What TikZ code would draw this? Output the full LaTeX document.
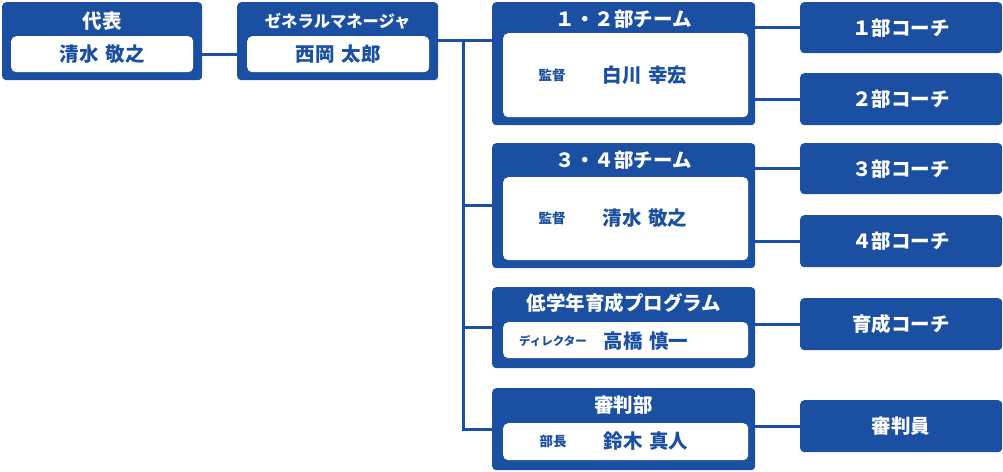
\documentclass[tikz,border=0pt]{standalone}
\usepackage{fontspec}
\setmainfont{Noto Sans CJK JP}
\usepackage{tikz}
\usetikzlibrary{calc,positioning}
\definecolor{jblue}{RGB}{26,79,161}

\begin{document}
\begin{tikzpicture}[x=1pt,y=-1pt,
  box/.style={fill=jblue,rounded corners=4pt,inner sep=0pt,anchor=north west},
  inbox/.style={fill=white,rounded corners=5pt,inner sep=0pt,anchor=north west},
  ttl/.style={text=white,font=\bfseries\fontsize{19.5}{19.5}\selectfont},
  coach/.style={box,text=white,anchor=north west,minimum width=202pt,minimum height=52pt,font=\bfseries\fontsize{19.5}{19.5}\selectfont},
  nm/.style={text=jblue,font=\bfseries\fontsize{19.5}{19.5}\selectfont},
  role/.style={text=jblue,font=\bfseries\fontsize{13.5}{13.5}\selectfont},
  conn/.style={jblue,line width=3pt}]
  \useasboundingbox (0,0) rectangle (1003,471);
  % left column
  \node[box,minimum width=200pt,minimum height=78pt] (rep) at (2,2) {};
  \node[ttl] (reptl) at ($(rep.north)+(0,19)$) {代表};
  \node[inbox,minimum width=182pt,minimum height=36pt] (repin) at (11,36) {};
  \node[nm] (repnm) at (repin.center) {清水\hspace{0.35em}敬之};
  \node[box,minimum width=201pt,minimum height=78pt] (gm) at (237,2) {};
  \node[ttl,font=\bfseries\fontsize{16.3}{16.3}\selectfont] (gmtl) at ($(gm.north)+(0,19)$) {ゼネラルマネージャ};
  \node[inbox,minimum width=182pt,minimum height=36pt] (gmin) at (247,36) {};
  \node[nm] (gmnm) at (gmin.center) {西岡\hspace{0.35em}太郎};
  % teams
  \node[box,minimum width=263pt,minimum height=123pt] (t12) at (492,2) {};
  \node[ttl] (t12tl) at ($(t12.north)+(0,17)$) {１・２部チーム};
  \node[inbox,minimum width=245pt,minimum height=84pt] (t12in) at (503,33) {};
  \node[role] (t12role) at (552,75) {監督};
  \node[nm] (t12nm) at (645,75) {白川\hspace{0.35em}幸宏};
  \node[box,minimum width=263pt,minimum height=125pt] (t34) at (492,143) {};
  \node[ttl] (t34tl) at ($(t34.north)+(0,17)$) {３・４部チーム};
  \node[inbox,minimum width=245pt,minimum height=83pt] (t34in) at (503,177) {};
  \node[role] (t34role) at (552,218) {監督};
  \node[nm] (t34nm) at (645,218) {清水\hspace{0.35em}敬之};
  \node[box,minimum width=263pt,minimum height=81pt] (prog) at (492,287) {};
  \node[ttl] (progtl) at ($(prog.north)+(0,16)$) {低学年育成プログラム};
  \node[inbox,minimum width=245pt,minimum height=36pt] (progin) at (503,322) {};
  \node[role,font=\bfseries\fontsize{11.5}{11.5}\selectfont] (progrole) at (553,341) {ディレクター};
  \node[nm] (prognm) at (646,341) {高橋\hspace{0.35em}慎一};
  \node[box,minimum width=263pt,minimum height=82pt] (ref) at (492,388) {};
  \node[ttl] (reftl) at ($(ref.north)+(0,17)$) {審判部};
  \node[inbox,minimum width=245pt,minimum height=37pt] (refin) at (503,423) {};
  \node[role] (refrole) at (553,441) {部長};
  \node[nm] (refnm) at (646,441) {鈴木\hspace{0.35em}真人};
  % coaches
  \node[coach,minimum height=51pt] (c1) at (800,2) {１部コーチ};
  \node[coach] (c2) at (800,73) {２部コーチ};
  \node[coach,minimum height=51pt] (c3) at (800,143) {３部コーチ};
  \node[coach] (c4) at (800,215) {４部コーチ};
  \node[coach] (c5) at (800,298) {育成コーチ};
  \node[coach] (c6) at (800,400) {審判員};
  % lines
  \coordinate (trunk) at (463,40);
  \draw[conn] (rep.east |- repin.center) -- (gm.west |- repin.center);
  \draw[conn] (gm.east |- trunk) -- (t12.west |- trunk);
  \draw[conn] (trunk) |- (ref.west);
  \draw[conn] (trunk |- t34.west) -- (t34.west);
  \draw[conn] (trunk |- prog.west) -- (prog.west);
  \foreach \t/\c in {t12/c1,t12/c2,t34/c3,t34/c4,prog/c5,ref/c6}
    \draw[conn] (\t.east |- \c.west) -- (\c.west);
\end{tikzpicture}
\end{document}
